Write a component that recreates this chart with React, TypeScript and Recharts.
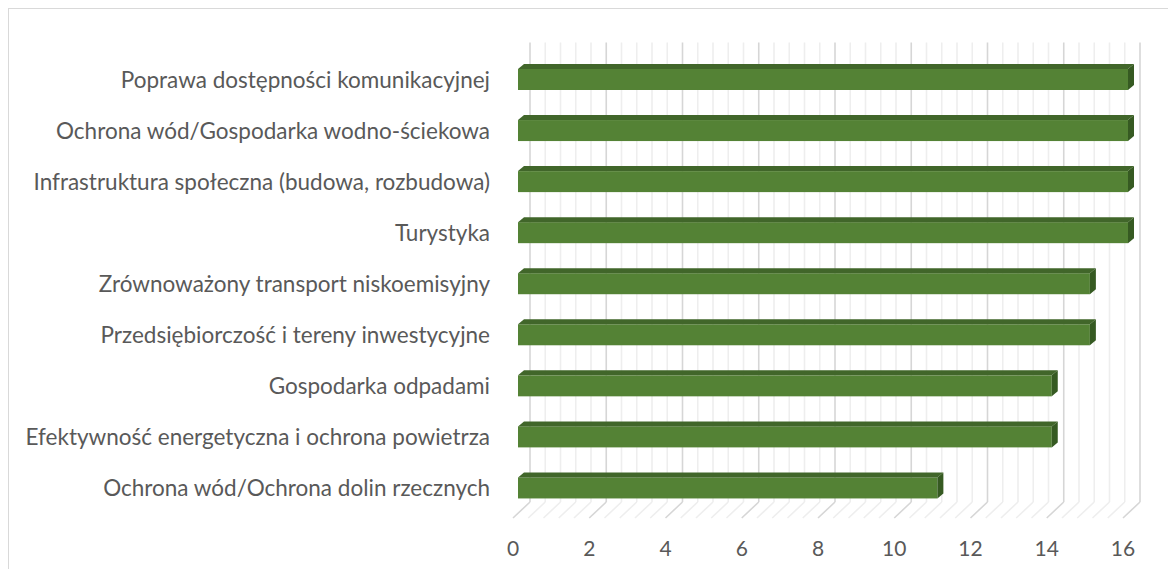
import React from "react";
import { BarChart, Bar, XAxis, YAxis, ReferenceLine } from "recharts";

const categories = [
  "Poprawa dostępności komunikacyjnej",
  "Ochrona wód/Gospodarka wodno-ściekowa",
  "Infrastruktura społeczna (budowa, rozbudowa)",
  "Turystyka",
  "Zrównoważony transport niskoemisyjny",
  "Przedsiębiorczość i tereny inwestycyjne",
  "Gospodarka odpadami",
  "Efektywność energetyczna i ochrona powietrza",
  "Ochrona wód/Ochrona dolin rzecznych",
];
const values = [16, 16, 16, 16, 15, 15, 14, 14, 11];
const xTicks = [0, 2, 4, 6, 8, 10, 12, 14, 16];
const minorTicks = [
  0, 0.4, 0.8, 1.2, 1.6, 2, 2.4, 2.8, 3.2, 3.6, 4, 4.4, 4.8, 5.2, 5.6, 6, 6.4, 6.8, 7.2, 7.6, 8,
  8.4, 8.8, 9.2, 9.6, 10, 10.4, 10.8, 11.2, 11.6, 12, 12.4, 12.8, 13.2, 13.6, 14, 14.4, 14.8, 15.2,
  15.6, 16,
];

const data = categories.map((name, i) => ({ name, value: values[i] }));

const FONT = "Lato, 'Noto Sans', sans-serif";
const TEXT = "#595959";
const BACK_DX = 12;
const BACK_DY = -11.5;
const FLOOR_DX = -5;
const FLOOR_DY = 4.5;
const DEPTH_X = 6;
const DEPTH_Y = -5;
const W = 1159;
const H = 560;
const MARGIN = { top: 45, right: 40, bottom: 25.5, left: 0 };

const makeGridLine = (major: boolean) => (props: any) => {
  const { x1, y1, y2 } = props;
  const color = major ? "#d6d6d6" : "#eeeeee";
  const top = Math.min(y1, y2);
  const bot = Math.max(y1, y2);
  const bx = x1 + BACK_DX;
  return (
    <g>
      <line x1={bx} y1={top + BACK_DY} x2={bx} y2={bot + BACK_DY} stroke={color} strokeWidth={1.6} />
      <line
        x1={bx}
        y1={bot + BACK_DY}
        x2={x1 + FLOOR_DX}
        y2={bot + FLOOR_DY}
        stroke={color}
        strokeWidth={1.6}
      />
    </g>
  );
};

const Bar3D = (props: any) => {
  const { x, y, width, height } = props;
  if (width == null || width <= 0) return null;
  const r = x + width;
  return (
    <g>
      <rect x={x} y={y} width={width} height={height} fill="#548235" />
      <polygon
        points={`${x},${y} ${x + DEPTH_X},${y + DEPTH_Y} ${r + DEPTH_X},${y + DEPTH_Y} ${r},${y}`}
        fill="#41662a"
      />
      <polygon
        points={`${r},${y} ${r + DEPTH_X},${y + DEPTH_Y} ${r + DEPTH_X},${y + height + DEPTH_Y} ${r},${y + height}`}
        fill="#365a22"
      />
    </g>
  );
};

const NoShape = () => null;

const XTick = (props: any) => {
  const { x, y, payload } = props;
  return (
    <text
      x={x + FLOOR_DX}
      y={y + 34}
      textAnchor="middle"
      dominantBaseline="central"
      fill={TEXT}
      fontSize={21}
      fontFamily={FONT}
    >
      {payload.value}
    </text>
  );
};

const YTick = (props: any) => {
  const { x, y, payload } = props;
  return (
    <text
      x={x}
      y={y}
      textAnchor="end"
      dominantBaseline="central"
      fill={TEXT}
      fontSize={22.5}
      fontFamily={FONT}
    >
      {payload.value}
    </text>
  );
};

export default function App() {
  const xAxis = (show: boolean) => (
    <XAxis
      type="number"
      domain={[0, 16]}
      ticks={xTicks}
      axisLine={false}
      tickLine={false}
      tickSize={0}
      tickMargin={0}
      height={30}
      tick={show ? <XTick /> : false}
      interval={0}
    />
  );
  const yAxis = (show: boolean) => (
    <YAxis
      type="category"
      dataKey="name"
      width={509}
      axisLine={false}
      tickLine={false}
      tickSize={0}
      tickMargin={28}
      tick={show ? <YTick /> : false}
      interval={0}
    />
  );
  return (
    <div
      style={{
        position: "relative",
        width: W,
        height: H,
        borderTop: "1px solid #d9d9d9",
        borderLeft: "1px solid #d9d9d9",
        background: "#fff",
      }}
    >
      <div style={{ position: "absolute", left: 0, top: 0 }}>
        <BarChart width={W} height={H} data={data} layout="vertical" margin={MARGIN} barSize={21}>
          {xAxis(false)}
          {yAxis(false)}
          {minorTicks.map((v, i) => (
            <ReferenceLine key={`rl-${i}`} x={v} shape={makeGridLine(i % 5 === 0)} />
          ))}
          <Bar dataKey="value" shape={<NoShape />} isAnimationActive={false} />
        </BarChart>
      </div>
      <div style={{ position: "absolute", left: 0, top: 0 }}>
        <BarChart width={W} height={H} data={data} layout="vertical" margin={MARGIN} barSize={21}>
          {xAxis(true)}
          {yAxis(true)}
          <Bar dataKey="value" shape={<Bar3D />} isAnimationActive={false} />
        </BarChart>
      </div>
    </div>
  );
}
